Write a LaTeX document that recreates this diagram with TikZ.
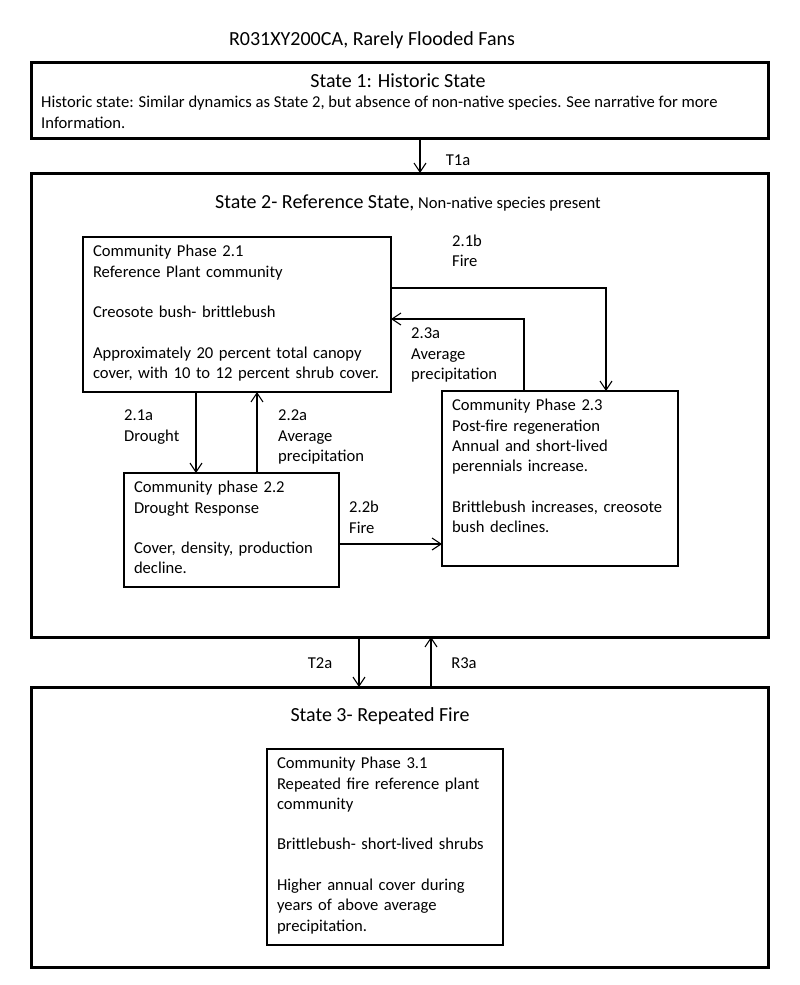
\documentclass[tikz,border=0pt]{standalone}
\usepackage{fontspec}
\setmainfont{Carlito}
\usetikzlibrary{arrows.meta}

\newcommand\stmbody{\fontsize{16.6}{20.3}\selectfont}
\newcommand\stmtitle{\fontsize{20}{24}\selectfont}

\begin{document}
\begin{tikzpicture}[
  x=1pt, y=-1pt,
  every node/.style={font=\stmbody},
  statebox/.style={draw, line width=3pt, anchor=north west, outer sep=0pt, inner sep=0pt},
  phasebox/.style={draw, line width=1.1pt, anchor=north west, outer sep=0pt,
    align=left, inner xsep=10pt, inner ysep=5.5pt, text height=14.2pt},
  lbl/.style={anchor=north west, align=left, inner sep=0pt},
  arr/.style={-{Straight Barb[length=9pt,width=12pt]}, line width=1.1pt}
]
\useasboundingbox (0,0) rectangle (800,985);

% states
\node[font=\stmtitle] (title) at (372,40) {R031XY200CA, Rarely Flooded Fans};
\node[statebox, minimum width=737pt, minimum height=76pt] (s1) at (31,62) {};
\node[statebox, minimum width=737pt, minimum height=464pt] (s2) at (31,173) {};
\node[statebox, minimum width=737pt, minimum height=280pt] (s3) at (31,687) {};

\node[font=\stmtitle] (s1title) at (398,81) {State 1: Historic State};
\node[lbl] (s1text) at (41,93.3) {\strut Historic state: Similar dynamics as State 2, but absence of non-native species.  See narrative for more\\Information.};
\node (s2title) at (408,203) {{\stmtitle State 2- Reference State,} Non-native species present};
\node[font=\stmtitle] (s3title) at (380,716) {State 3- Repeated Fire};

% community phases
\node[phasebox, text width=288pt, text depth=129.8pt] (p21) at (83,237)
  {Community Phase 2.1\\Reference Plant community\\[20.3pt]Creosote bush- brittlebush\\[20.3pt]Approximately 20 percent total canopy\\cover, with 10 to 12 percent shrub cover.};
\node[phasebox, text width=195pt, text depth=88.8pt] (p22) at (124,473)
  {Community phase 2.2\\Drought Response\\[20.3pt]Cover, density, production\\decline.};
\node[phasebox, text width=216pt, text depth=149.8pt] (p23) at (442,391)
  {Community Phase 2.3\\Post-fire regeneration\\Annual and short-lived\\perennials increase.\\[20.3pt]Brittlebush increases, creosote\\bush declines.};
\node[phasebox, text width=216pt, text depth=170.8pt] (p31) at (267,749)
  {Community Phase 3.1\\Repeated fire reference plant\\community\\[20.3pt]Brittlebush- short-lived shrubs\\[20.3pt]Higher annual cover during\\years of above average\\precipitation.};

% pathways
\coordinate (t1) at (420,0);
\coordinate (a21) at (196,0);
\coordinate (a22) at (257,0);
\coordinate (b21) at (606,288);
\coordinate (a23) at (524,319);
\coordinate (b22) at (0,544);
\coordinate (t2) at (359,0);
\coordinate (r3) at (431,0);

\draw[arr] (s1.south -| t1) -- (s2.north -| t1);
\draw[arr] (p21.south -| a21) -- (p22.north -| a21);
\draw[arr] (p22.north -| a22) -- (p21.south -| a22);
\draw[arr] (p21.east |- b21) -| (p23.north -| b21);
\draw[arr] (p23.north -| a23) |- (p21.east |- a23);
\draw[arr] (p22.east |- b22) -- (p23.west |- b22);
\draw[arr] (s2.south -| t2) -- (s3.north -| t2);
\draw[arr] (s3.north -| r3) -- (s2.south -| r3);

\node (lt1a) at (458,160) {T1a};
\node[lbl] (l21b) at (452,232) {\strut 2.1b\\Fire};
\node[lbl] (l23a) at (411,324.3) {\strut 2.3a\\Average\\precipitation};
\node[lbl] (l21a) at (124,406.3) {\strut 2.1a\\Drought};
\node[lbl] (l22a) at (278,406.3) {\strut 2.2a\\Average\\precipitation};
\node[lbl] (l22b) at (349,498.3) {\strut 2.2b\\Fire};
\node (lt2a) at (320,663) {T2a};
\node (lr3a) at (464,663) {R3a};
\end{tikzpicture}
\end{document}
